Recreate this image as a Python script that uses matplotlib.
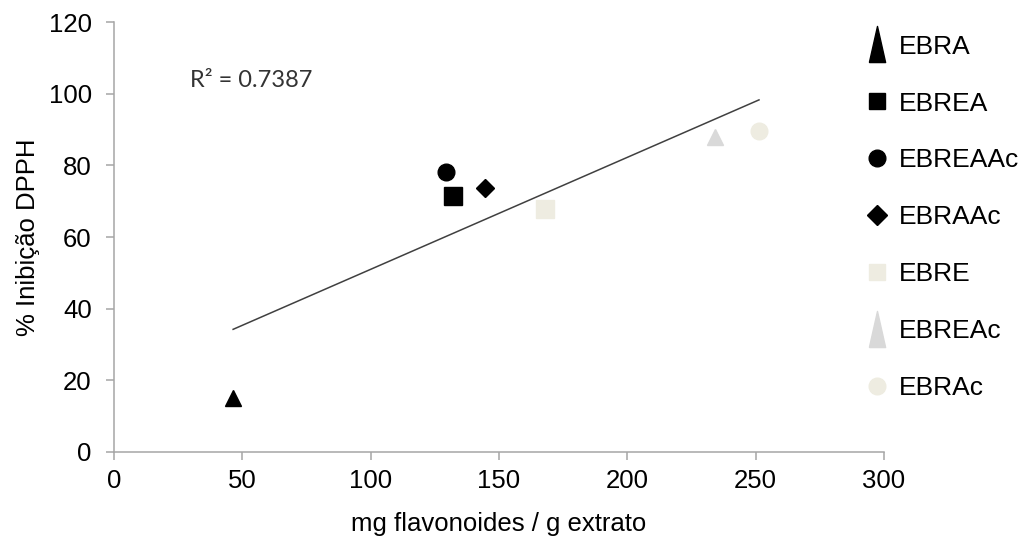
import numpy as np
import matplotlib
matplotlib.use("Agg")
import matplotlib.pyplot as plt
from matplotlib.lines import Line2D

# amostras, flavonoides (mg/g) e % inibicao DPPH
labels = ["EBRA", "EBREA", "EBREAAc", "EBRAAc", "EBRE", "EBREAc", "EBRAc"]
flavonoides = [46.4, 132.0, 129.3, 144.5, 168.0, 234.0, 251.3]
inibicao = [15.1, 71.4, 78.1, 73.7, 67.8, 87.9, 89.6]

markers = ["^", "s", "o", "D", "s", "^", "o"]
sizes = [12, 13, 12, 9, 13, 12, 12]
colors = ["black", "black", "black", "black", "#EEECE1", "#D9D9D9", "#EEECE1"]

plt.rcParams["font.family"] = ["Liberation Sans", "DejaVu Sans"]
axis_gray = "#A6A6A6"

fig = plt.figure(figsize=(10.31, 5.37), dpi=100)
ax = fig.add_axes([0.1106, 0.1583, 0.7468, 0.8007])

for x, y, m, s, c in zip(flavonoides, inibicao, markers, sizes, colors):
    ax.plot(x, y, marker=m, markersize=s, color=c, linestyle="none", zorder=3)

# linha de tendencia linear
slope, intercept = np.polyfit(flavonoides, inibicao, 1)
xs = np.array([min(flavonoides), max(flavonoides)])
ax.plot(xs, slope * xs + intercept, color="#404040", linewidth=1.1, zorder=2)

ax.text(29.5, 103.8, "R² = 0.7387", fontsize=17, family=["Lato", "DejaVu Sans"],
        color="#333333", va="center", ha="left")

ax.set_xlim(0, 300)
ax.set_ylim(0, 120)
ax.set_xticks(range(0, 301, 50))
ax.set_yticks(range(0, 121, 20))
for side in ["top", "right"]:
    ax.spines[side].set_visible(False)
for side in ["left", "bottom"]:
    ax.spines[side].set_color(axis_gray)
    ax.spines[side].set_linewidth(1.1)
ax.tick_params(colors=axis_gray, labelcolor="black", labelsize=18.5, length=6, width=1.1)
ax.tick_params(axis="x", pad=6)
ax.tick_params(axis="y", pad=10)

ax.set_xlabel("mg flavonoides / g extrato", fontsize=18.5, labelpad=14)
ax.set_ylabel("% Inibição DPPH", fontsize=18.5, labelpad=6)

# legenda com marcadores no estilo do Excel
tall_tri = [(-0.45, -1), (0.45, -1), (0, 1), (-0.45, -1)]
leg_markers = [tall_tri, "s", "o", "D", "s", tall_tri, "o"]
leg_sizes = [26, 12, 12, 10, 12, 26, 12]
handles = [Line2D([], [], marker=m, markersize=s, color=c, linestyle="none")
           for m, s, c in zip(leg_markers, leg_sizes, colors)]
fig.legend(handles, labels, loc="upper left", bbox_to_anchor=(0.8298, 0.955),
           frameon=False, fontsize=19, handlelength=0.8, handletextpad=0.45,
           labelspacing=1.245, borderaxespad=0)

fig.savefig("out.png", dpi=100)
